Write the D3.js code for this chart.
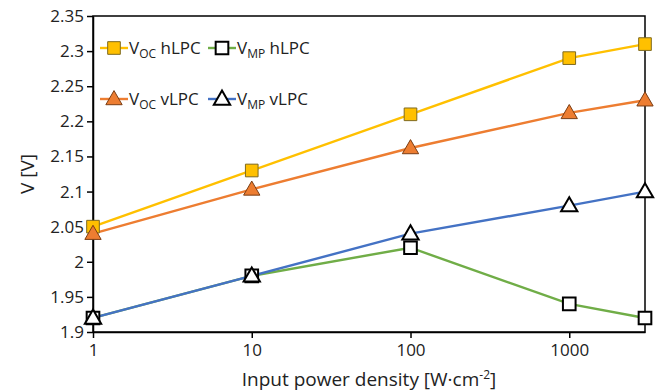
<!DOCTYPE html>
<html>
<head>
    <script src="https://d3js.org/d3.v7.min.js"></script>
    <style>
        body { margin: 0; background: #fff; }
        text { font-family: "Open Sans", sans-serif; fill: #222; }
    </style>
</head>
<body>
	<svg id="chart" width="659" height="392"></svg>
	<script>
		var powers = [1, 10, 100, 1000, 3000];
		var vocH = [2.05, 2.13, 2.21, 2.29, 2.31];
		var vmpH = [1.92, 1.98, 2.02, 1.94, 1.92];
		var vocV = [2.04, 2.103, 2.162, 2.212, 2.23];
		var vmpV = [1.92, 1.98, 2.04, 2.08, 2.10];
		var xTicks = [1, 10, 100, 1000];
		var yTicks = [1.9, 1.95, 2, 2.05, 2.1, 2.15, 2.2, 2.25, 2.3, 2.35];

		var series = [
			{name: "OC", tag: "hLPC", values: vocH, line: "#ffc000", fill: "#ffc000", stroke: "#7f6a1f", shape: "square"},
			{name: "MP", tag: "hLPC", values: vmpH, line: "#70ad47", fill: "#fff", stroke: "#000", shape: "square"},
			{name: "OC", tag: "vLPC", values: vocV, line: "#ed7d31", fill: "#ed7d31", stroke: "#7a3d14", shape: "triangle"},
			{name: "MP", tag: "vLPC", values: vmpV, line: "#4472c4", fill: "#fff", stroke: "#000", shape: "triangle"}
		];

		var svg = d3.select("#chart"),
			plotL = 93, plotR = 645, plotT = 16, plotB = 332;

		var x = d3.scaleLog().domain([1, 3000]).range([plotL, plotR]);
		var y = d3.scaleLinear().domain([1.9, 2.35]).range([plotB, plotT]);

		// frame
		svg.append("rect")
			.attr("x", plotL).attr("y", plotT)
			.attr("width", plotR - plotL).attr("height", plotB - plotT)
			.attr("fill", "none").attr("stroke", "#000").attr("stroke-width", 1.5);

		var yAxis = svg.append("g")
			.attr("transform", "translate(" + plotL + ",0)")
			.call(d3.axisLeft(y).tickValues(yTicks).tickSize(6).tickSizeOuter(0)
				.tickFormat(function(d) { return d3.format("")(d); }));
		var xAxis = svg.append("g")
			.attr("transform", "translate(0," + plotB + ")")
			.call(d3.axisBottom(x).tickValues(xTicks).tickSize(6).tickSizeOuter(0)
				.tickFormat(d3.format("d")));

		[xAxis, yAxis].forEach(function(a) {
			a.select(".domain").attr("stroke", "#000").attr("stroke-width", 1.5);
			a.selectAll(".tick line").attr("stroke", "#000").attr("stroke-width", 1.5);
			a.selectAll(".tick text").attr("font-size", 17).attr("fill", "#222")
				.attr("font-family", "'Open Sans', sans-serif");
		});
		yAxis.selectAll(".tick text").attr("x", -9);
		xAxis.selectAll(".tick text").attr("y", 12);

		var sym = {
			square: d3.symbol().type(d3.symbolSquare).size(160),
			triangle: d3.symbol().type(d3.symbolTriangle).size(115)
		};

		var line = d3.line()
			.x(function(d, i) { return x(powers[i]); })
			.y(function(d) { return y(d); });

		series.forEach(function(s) {
			svg.append("path")
				.attr("d", line(s.values))
				.attr("fill", "none")
				.attr("stroke", s.line)
				.attr("stroke-width", 2.4);
		});

		series.forEach(function(s) {
			svg.selectAll(null)
				.data(s.values)
				.enter()
				.append("path")
				.attr("d", sym[s.shape])
				.attr("transform", function(d, i) {
					return "translate(" + x(powers[i]) + "," + (y(d) + (s.shape == "triangle" ? 1 : 0)) + ")";
				})
				.attr("fill", s.fill)
				.attr("stroke", s.stroke)
				.attr("stroke-width", s.fill == "#fff" ? 2 : 1);
		});

		// legend
		var legendPos = [[100, 48], [208, 48], [100, 99], [208, 99]];
		series.forEach(function(s, i) {
			var p = legendPos[i];
			var g = svg.append("g").attr("transform", "translate(" + p[0] + "," + p[1] + ")");
			g.append("line").attr("x1", 0).attr("x2", 28).attr("y1", 0).attr("y2", 0)
				.attr("stroke", s.line).attr("stroke-width", 2.4);
			g.append("path").attr("d", sym[s.shape])
				.attr("transform", "translate(14," + (s.shape == "triangle" ? 1 : 0) + ")")
				.attr("fill", s.fill).attr("stroke", s.stroke)
				.attr("stroke-width", s.fill == "#fff" ? 2 : 1);
			var t = g.append("text").attr("x", 29).attr("y", 6).attr("font-size", 17);
			t.append("tspan").text("V");
			t.append("tspan").attr("font-size", 12).attr("dy", 4).text(s.name);
			t.append("tspan").attr("dy", -4).text(" " + s.tag);
		});

		// axis titles
		var xt = svg.append("text")
			.attr("x", (plotL + plotR) / 2).attr("y", 386)
			.attr("text-anchor", "middle").attr("font-size", 19);
		xt.append("tspan").text("Input power density [W·cm");
		xt.append("tspan").attr("font-size", 12).attr("dy", -7).text("-2");
		xt.append("tspan").attr("dy", 7).text("]");

		svg.append("text")
			.attr("transform", "translate(34," + (plotT + plotB) / 2 + ") rotate(-90)")
			.attr("text-anchor", "middle").attr("font-size", 19)
			.text("V [V]");
	</script>
</body>
</html>
